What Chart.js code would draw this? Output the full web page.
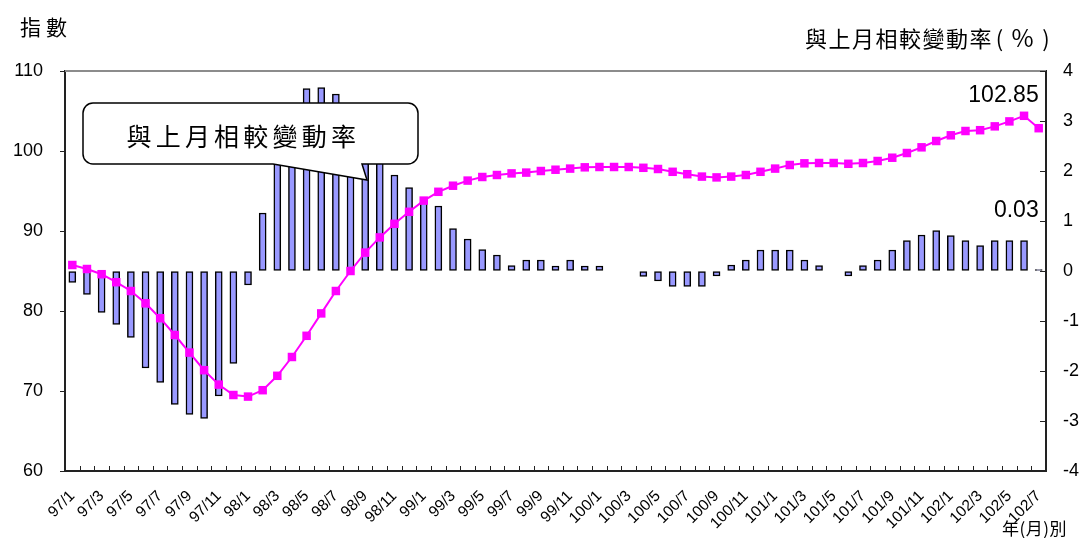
<!DOCTYPE html>
<html lang="zh-Hant">
<head>
<meta charset="utf-8">
<title>指數與上月相較變動率</title>
<script src="https://cdn.jsdelivr.net/npm/chart.js@4.4.1/dist/chart.umd.min.js"></script>
<style>
    html, body { margin: 0; padding: 0; background: #fff; }
    #wrap { position: relative; width: 1083px; height: 538px; overflow: hidden; }
    #chart { position: absolute; left: 0; top: 0; }
    .lbl { position: absolute; font-family: "Noto Sans CJK TC", sans-serif; color: #000; white-space: nowrap; line-height: 1; }
    #yTitle { left: 20px; top: 16px; font-size: 21px; letter-spacing: 5px; }
    #y1Title { left: 805px; top: 25px; font-size: 22px; letter-spacing: 1.5px; }
    #y1Title .p { display: inline-block; text-align: center; letter-spacing: 0; }
    #xTitle { right: 16px; top: 519px; font-size: 17px; letter-spacing: 0.5px; }
</style>
</head>
<body>
<div id="wrap">
    <canvas id="chart" width="1083" height="538"></canvas>
    <div class="lbl" id="yTitle">指數</div>
    <div class="lbl" id="y1Title">與上月相較變動率<span class="p" style="width:13px">(</span><span class="p" style="width:33px;font-size:24px">%</span><span class="p" style="width:14px">)</span></div>
    <div class="lbl" id="xTitle">年(月)別</div>
</div>
<script>
// months 97/1 .. 102/7
const months = [
    '97/1', '97/2', '97/3', '97/4', '97/5', '97/6', '97/7', '97/8', '97/9', '97/10', '97/11', '97/12',
    '98/1', '98/2', '98/3', '98/4', '98/5', '98/6', '98/7', '98/8', '98/9', '98/10', '98/11', '98/12',
    '99/1', '99/2', '99/3', '99/4', '99/5', '99/6', '99/7', '99/8', '99/9', '99/10', '99/11', '99/12',
    '100/1', '100/2', '100/3', '100/4', '100/5', '100/6', '100/7', '100/8', '100/9', '100/10', '100/11', '100/12',
    '101/1', '101/2', '101/3', '101/4', '101/5', '101/6', '101/7', '101/8', '101/9', '101/10', '101/11', '101/12',
    '102/1', '102/2', '102/3', '102/4', '102/5', '102/6', '102/7'
];

// index (left axis)
const indexValues = [
    85.75, 85.25, 84.6, 83.6, 82.5, 80.96, 79.1, 77.0, 74.8, 72.6, 70.8, 69.5,
    69.3, 70.1, 71.9, 74.25, 76.9, 79.7, 82.5, 85.0, 87.3, 89.2, 90.9, 92.4,
    93.8, 94.9, 95.66, 96.3, 96.75, 97.0, 97.2, 97.3, 97.5, 97.66, 97.8, 97.96,
    98.0, 98.0, 98.0, 97.9, 97.75, 97.4, 97.1, 96.8, 96.7, 96.8, 97.0, 97.4,
    97.8, 98.25, 98.46, 98.5, 98.5, 98.4, 98.5, 98.75, 99.16, 99.75, 100.46, 101.25,
    101.96, 102.5, 102.6, 103.08, 103.7, 104.4, 102.85
];

// change rate vs previous month, % (right axis)
const changeRates = [
    -0.23, -0.47, -0.83, -1.07, -1.33, -1.94, -2.23, -2.67, -2.87, -2.95, -2.5, -1.85,
    -0.28, 1.16, 2.6, 3.2, 3.65, 3.67, 3.54, 3.0, 2.7, 2.2, 1.92, 1.67,
    1.45, 1.3, 0.85, 0.64, 0.43, 0.32, 0.11, 0.22, 0.22, 0.1, 0.22, 0.1,
    0.1, 0, 0, -0.11, -0.2, -0.31, -0.31, -0.31, -0.1, 0.12, 0.22, 0.42,
    0.42, 0.42, 0.22, 0.11, 0, -0.1, 0.11, 0.22, 0.42, 0.61, 0.72, 0.81,
    0.71, 0.61, 0.51, 0.61, 0.61, 0.61, 0.03
];

const indexTicks = [60, 70, 80, 90, 100, 110];
const rateTicks = [-4, -3, -2, -1, 0, 1, 2, 3, 4];
const calloutText = '與上月相較變動率';

const numFont = '"Liberation Sans", Arial, sans-serif';

// frame, inward tick marks, callout box and the two value labels
const decorations = {
    id: 'decorations',
    afterDatasetsDraw(chart) {
        const { ctx, chartArea: a, scales } = chart;
        const x = scales.x, y = scales.y, y1 = scales.y1;
        ctx.save();

        // top border
        ctx.strokeStyle = '#8c8c8c';
        ctx.lineWidth = 2;
        ctx.beginPath();
        ctx.moveTo(a.left, a.top);
        ctx.lineTo(a.right, a.top);
        ctx.stroke();

        // x tick marks between months, pointing up
        ctx.strokeStyle = '#222';
        ctx.lineWidth = 1;
        ctx.beginPath();
        for (let i = 1; i < months.length; i++) {
            const px = Math.round((x.getPixelForValue(i - 1) + x.getPixelForValue(i)) / 2) + 0.5;
            ctx.moveTo(px, a.bottom);
            ctx.lineTo(px, a.bottom - 5);
        }
        // right axis tick marks, pointing in
        rateTicks.forEach(v => {
            const py = Math.round(y1.getPixelForValue(v)) + 0.5;
            ctx.moveTo(a.right, py);
            ctx.lineTo(a.right - 6, py);
        });
        ctx.stroke();

        // callout
        const L = 83, T = 103, R = 418, B = 164, r = 10;
        ctx.beginPath();
        ctx.moveTo(L + r, T);
        ctx.lineTo(R - r, T);
        ctx.arcTo(R, T, R, T + r, r);
        ctx.lineTo(R, B - r);
        ctx.arcTo(R, B, R - r, B, r);
        ctx.lineTo(362, B);
        ctx.lineTo(367, 180);
        ctx.lineTo(273, B);
        ctx.lineTo(L + r, B);
        ctx.arcTo(L, B, L, B - r, r);
        ctx.lineTo(L, T + r);
        ctx.arcTo(L, T, L + r, T, r);
        ctx.closePath();
        ctx.fillStyle = '#fff';
        ctx.fill();
        ctx.strokeStyle = '#000';
        ctx.lineWidth = 1.5;
        ctx.stroke();

        ctx.fillStyle = '#000';
        ctx.font = '25px "Noto Sans CJK TC", sans-serif';
        ctx.textAlign = 'center';
        ctx.textBaseline = 'middle';
        [...calloutText].forEach((ch, i) => {
            ctx.fillText(ch, 139 + i * 29.2, 136);
        });

        // value labels on the latest month
        const last = months.length - 1;
        const lx = x.getPixelForValue(last);
        ctx.font = '23px ' + numFont;
        ctx.textAlign = 'right';
        ctx.fillText(indexValues[last].toFixed(2), lx, y.getPixelForValue(indexValues[last]) - 33);
        ctx.fillText(changeRates[last].toFixed(2), lx, y1.getPixelForValue(changeRates[last]) - 59);

        ctx.restore();
    }
};

const ctx = document.getElementById('chart').getContext('2d');

new Chart(ctx, {
    data: {
        labels: months,
        datasets: [
            {
                type: 'line',
                label: '指數',
                data: indexValues,
                yAxisID: 'y',
                order: 1,
                borderColor: '#ff00ff',
                backgroundColor: '#ff00ff',
                borderWidth: 2,
                tension: 0,
                pointStyle: 'rect',
                pointRadius: 6,
                pointBorderWidth: 0,
                pointBackgroundColor: '#ff00ff'
            },
            {
                type: 'bar',
                label: '與上月相較變動率',
                data: changeRates,
                yAxisID: 'y1',
                order: 2,
                backgroundColor: '#9999ff',
                borderColor: '#000',
                borderWidth: 1.5,
                borderSkipped: false,
                barThickness: 7
            }
        ]
    },
    options: {
        responsive: false,
        devicePixelRatio: 1,
        animation: false,
        layout: {
            padding: { top: 71, left: 0, right: 0, bottom: 0 }
        },
        plugins: {
            legend: { display: false },
            tooltip: { enabled: false }
        },
        scales: {
            x: {
                offset: true,
                grid: { display: false },
                border: { display: true, color: '#222', width: 2 },
                ticks: {
                    autoSkip: false,
                    maxRotation: 45,
                    minRotation: 45,
                    padding: 8,
                    color: '#000',
                    font: { family: numFont, size: 15.5 },
                    callback: (v, i) => (i % 2 === 0 ? months[i] : '')
                },
                afterFit: (scale) => { scale.height = 67; }
            },
            y: {
                position: 'left',
                min: indexTicks[0],
                max: indexTicks[indexTicks.length - 1],
                afterBuildTicks: (scale) => { scale.ticks = indexTicks.map(v => ({ value: v })); },
                grid: { drawOnChartArea: false, drawTicks: true, tickLength: 5, color: '#222' },
                border: { display: true, color: '#222', width: 2 },
                ticks: {
                    padding: 17,
                    color: '#000',
                    font: { family: numFont, size: 18 }
                },
                afterFit: (scale) => { scale.width = 65; }
            },
            y1: {
                position: 'right',
                min: rateTicks[0],
                max: rateTicks[rateTicks.length - 1],
                afterBuildTicks: (scale) => { scale.ticks = rateTicks.map(v => ({ value: v })); },
                grid: { drawOnChartArea: false, drawTicks: false },
                border: { display: true, color: '#222', width: 2 },
                ticks: {
                    padding: 17,
                    color: '#000',
                    font: { family: numFont, size: 18 }
                },
                afterFit: (scale) => { scale.width = 37; }
            }
        }
    },
    plugins: [decorations]
});
</script>
</body>
</html>
